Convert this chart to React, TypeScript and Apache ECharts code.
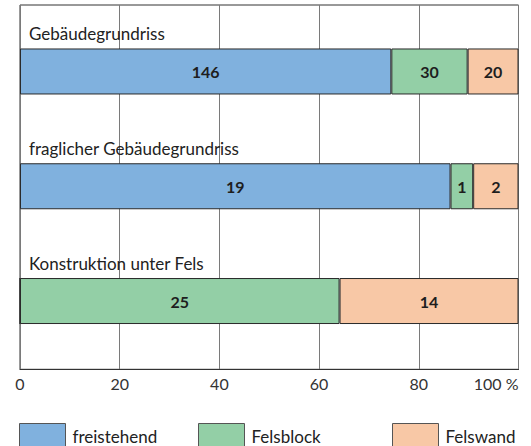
import React, { useEffect, useRef } from "react";
import * as echarts from "echarts";

const categories = ["Gebäudegrundriss", "fraglicher Gebäudegrundriss", "Konstruktion unter Fels"];
const seriesNames = ["freistehend", "Felsblock", "Felswand"];
const freistehend = [146, 19, 0];
const felsblock = [30, 1, 25];
const felswand = [20, 2, 14];
const xTicks = [0, 20, 40, 60, 80, 100];
const colors = ["#80b1de", "#93cfa6", "#f8c8a6"];

const FONT = 'Lato, "Open Sans", sans-serif';

export default function App() {
  const ref = useRef<HTMLDivElement>(null);

  useEffect(() => {
    if (!ref.current) return;
    const chart = echarts.init(ref.current, undefined, { renderer: "svg" });
    const counts = [freistehend, felsblock, felswand];
    const totals = categories.map((_, i) => counts.reduce((s, arr) => s + arr[i], 0));

    const barSeries = counts.map((arr, si) => ({
      name: seriesNames[si],
      type: "bar",
      stack: "total",
      xAxisIndex: 1,
      yAxisIndex: 1,
      barWidth: 46,
      data: arr.map((v, i) => (v / totals[i]) * 100),
      itemStyle: { color: colors[si], borderColor: "#2a2a2a", borderWidth: 1 },
      label: {
        show: true,
        position: "inside",
        fontFamily: FONT,
        fontSize: 16,
        fontWeight: "bold",
        color: "#1e1e1e",
        formatter: (p: any) => (arr[p.dataIndex] === 0 ? "" : String(arr[p.dataIndex])),
      },
      emphasis: { disabled: true },
    }));

    const legendLefts = [14, 193, 387];
    const legends = seriesNames.map((n, i) => ({
      data: [n],
      left: legendLefts[i],
      top: 418,
      orient: "horizontal",
      itemWidth: 46,
      itemHeight: 26,
      selectedMode: false,
      icon: "rect",
      itemStyle: { borderColor: "#555", borderWidth: 1 },
      textStyle: { fontFamily: FONT, fontSize: 17, color: "#222", padding: [0, 0, 0, 2] },
    }));

    chart.setOption({
      animation: false,
      backgroundColor: "#ffffff",
      legend: legends,
      grid: [
        { left: 20, right: 12.5, top: 5, bottom: 76.7, show: true, borderColor: "#333", borderWidth: 1, backgroundColor: "transparent" },
        { left: 20, right: 12.5, top: 14.1, bottom: 87.6 },
      ],
      xAxis: [
        {
          type: "value",
          gridIndex: 0,
          min: xTicks[0],
          max: xTicks[xTicks.length - 1],
          interval: 20,
          axisLine: { show: true, lineStyle: { color: "#333", width: 1 } },
          axisTick: { show: false },
          splitLine: { show: true, lineStyle: { color: "#7a7a7a", width: 1 } },
          axisLabel: {
            fontFamily: FONT,
            fontSize: 16,
            color: "#333",
            margin: 6,
            alignMaxLabel: "right",
            formatter: (v: number) => (v === 100 ? "100 %" : String(v)),
          },
        },
        {
          type: "value",
          gridIndex: 1,
          min: 0,
          max: 100,
          show: false,
        },
      ],
      yAxis: [
        { type: "value", gridIndex: 0, min: 0, max: 1, show: false },
        {
          type: "category",
          gridIndex: 1,
          inverse: true,
          data: categories,
          axisLine: { show: false },
          axisTick: { show: false },
          splitLine: { show: false },
          axisLabel: {
            inside: true,
            margin: 9,
            align: "left",
            verticalAlign: "bottom",
            lineHeight: 17,
            padding: [0, 0, 29, 0],
            fontFamily: FONT,
            fontSize: 17,
            color: "#222",
          },
          z: 5,
        },
      ],
      series: barSeries,
    });

    return () => chart.dispose();
  }, []);

  return (
    <div
      ref={ref}
      style={{ position: "fixed", left: 0, top: 0, width: 531, height: 446, background: "#fff" }}
    />
  );
}
